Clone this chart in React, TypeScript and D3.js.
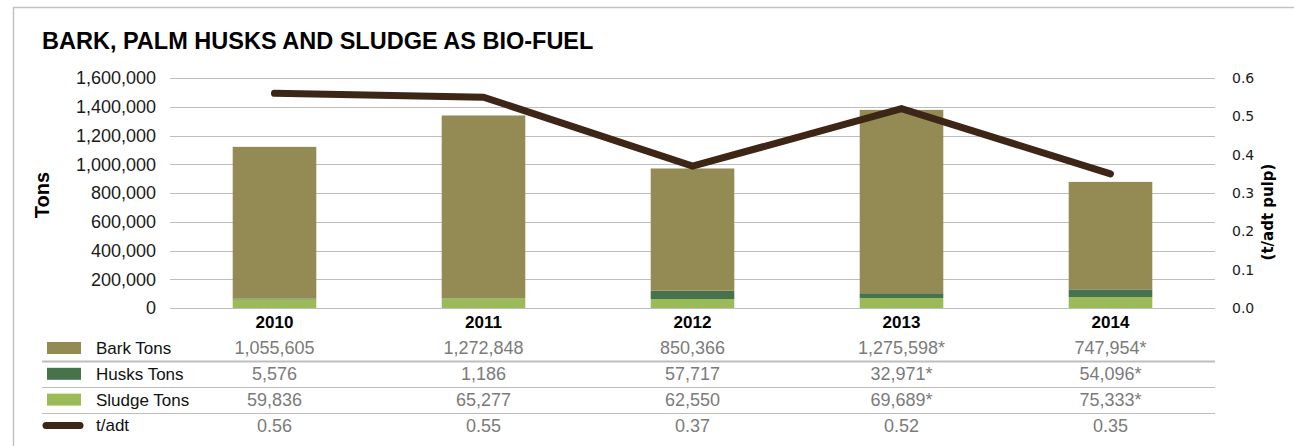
import React, { useEffect, useRef } from "react";
import * as d3 from "d3";

const years = ["2010", "2011", "2012", "2013", "2014"];
const barkTons = [1055605, 1272848, 850366, 1275598, 747954];
const husksTons = [5576, 1186, 57717, 32971, 54096];
const sludgeTons = [59836, 65277, 62550, 69689, 75333];
const tAdt = [0.56, 0.55, 0.37, 0.52, 0.35];
// years marked with an asterisk in the table
const starred = [false, false, false, true, true];

const leftTicks = [0, 200000, 400000, 600000, 800000, 1000000, 1200000, 1400000, 1600000];
const rightTicks = [0, 0.1, 0.2, 0.3, 0.4, 0.5, 0.6];

const colors = { bark: "#948a54", husks: "#46734c", sludge: "#9bbb59", line: "#3d2616" };

const W = 1294;
const H = 446;
const font = "'Liberation Sans', Arial, sans-serif";

const App = () => {
  const ref = useRef<SVGSVGElement | null>(null);

  useEffect(() => {
    const svg = d3.select(ref.current);
    svg.selectAll("*").remove();

    const x0 = 170, x1 = 1215, yTop = 78, yZero = 308;

    const x = d3.scaleBand().domain(years).range([x0, x1]).paddingInner(0.6).paddingOuter(0.3);
    const y = d3.scaleLinear().domain([0, 1600000]).range([yZero, yTop]);
    const y2 = d3.scaleLinear().domain([0, 0.6]).range([yZero, yTop]);

    // frame
    svg.append("path")
      .attr("d", `M13.5,${H} V7.5 H${W}`)
      .attr("fill", "none")
      .attr("stroke", "#c3c3c3")
      .attr("stroke-width", 1.5);

    svg.append("text")
      .attr("x", 42).attr("y", 49)
      .attr("font-family", font).attr("font-size", 23.5).attr("font-weight", "bold")
      .text("BARK, PALM HUSKS AND SLUDGE AS BIO-FUEL");

    // gridlines
    svg.append("g").selectAll("line").data(leftTicks).enter().append("line")
      .attr("x1", x0).attr("x2", x1)
      .attr("y1", (d) => Math.round(y(d)) + 0.5).attr("y2", (d) => Math.round(y(d)) + 0.5)
      .attr("stroke", "#bdbdbd").attr("stroke-width", 1.2);

    svg.append("g").selectAll("text").data(leftTicks).enter().append("text")
      .attr("x", 156).attr("y", (d) => y(d)).attr("dy", "0.35em")
      .attr("text-anchor", "end")
      .attr("font-family", font).attr("font-size", 18).attr("fill", "#1a1a1a")
      .text((d) => d3.format(",")(d));

    svg.append("g").selectAll("text").data(rightTicks).enter().append("text")
      .attr("x", 1232).attr("y", (d) => y2(d)).attr("dy", "0.35em")
      .attr("font-family", "'DejaVu Sans', sans-serif").attr("font-size", 14).attr("fill", "#1a1a1a")
      .text((d) => d.toFixed(1));

    svg.append("text")
      .attr("transform", `translate(49,195) rotate(-90)`)
      .attr("text-anchor", "middle")
      .attr("font-family", font).attr("font-size", 20).attr("font-weight", "bold")
      .text("Tons");

    svg.append("text")
      .attr("transform", `translate(1273,212) rotate(-90)`)
      .attr("text-anchor", "middle")
      .attr("font-family", "'DejaVu Sans', sans-serif").attr("font-size", 15).attr("font-weight", "bold")
      .text("(t/adt pulp)");

    // stacked bars
    const rows = years.map((yr, i) => ({ year: yr, sludge: sludgeTons[i], husks: husksTons[i], bark: barkTons[i] }));
    const stack = d3.stack<any>().keys(["sludge", "husks", "bark"])(rows);
    svg.append("g").selectAll("g").data(stack).enter().append("g")
      .attr("fill", (s) => (colors as any)[s.key])
      .selectAll("rect").data((s) => s).enter().append("rect")
      .attr("x", (d: any) => x(d.data.year)!)
      .attr("width", x.bandwidth())
      .attr("y", (d) => y(d[1]))
      .attr("height", (d) => y(d[0]) - y(d[1]));

    // line
    const line = d3.line<number>()
      .x((_, i) => x(years[i])! + x.bandwidth() / 2)
      .y((d) => y2(d));
    svg.append("path")
      .attr("d", line(tAdt))
      .attr("fill", "none")
      .attr("stroke", colors.line)
      .attr("stroke-width", 7)
      .attr("stroke-linecap", "round")
      .attr("stroke-linejoin", "miter");

    // year labels
    svg.append("g").selectAll("text").data(years).enter().append("text")
      .attr("x", (d) => x(d)! + x.bandwidth() / 2).attr("y", 328)
      .attr("text-anchor", "middle")
      .attr("font-family", font).attr("font-size", 17).attr("font-weight", "bold")
      .text((d) => d);

    // data table
    const fmt = d3.format(",");
    const star = (i: number) => (starred[i] ? "*" : "");
    const tableRows = [
      { name: "Bark Tons", key: "bark", vals: barkTons.map((v, i) => fmt(v) + star(i)) },
      { name: "Husks Tons", key: "husks", vals: husksTons.map((v, i) => fmt(v) + star(i)) },
      { name: "Sludge Tons", key: "sludge", vals: sludgeTons.map((v, i) => fmt(v) + star(i)) },
      { name: "t/adt", key: "line", vals: tAdt.map((v) => v.toFixed(2)) },
    ];
    const rowY = d3.scaleLinear().domain([0, 1]).range([348, 373.8]);

    [0, 1, 2].forEach((i) => {
      const ly = Math.round((rowY(i) + rowY(i + 1)) / 2) + 0.5;
      svg.append("line")
        .attr("x1", 42).attr("x2", x1).attr("y1", ly).attr("y2", ly)
        .attr("stroke", "#bdbdbd").attr("stroke-width", i === 0 ? 1.8 : 1.2);
    });

    const tr = svg.append("g").selectAll("g").data(tableRows).enter().append("g")
      .attr("transform", (_, i) => `translate(0,${rowY(i)})`);

    tr.filter((d) => d.key !== "line").append("rect")
      .attr("x", 47).attr("y", -6).attr("width", 34).attr("height", 12)
      .attr("fill", (d) => (colors as any)[d.key]);
    tr.filter((d) => d.key === "line").append("line")
      .attr("x1", 46).attr("x2", 80).attr("y1", 0).attr("y2", 0)
      .attr("stroke", colors.line).attr("stroke-width", 7).attr("stroke-linecap", "round");

    tr.append("text")
      .attr("x", 96).attr("dy", "0.35em")
      .attr("font-family", font).attr("font-size", 17).attr("fill", "#111")
      .text((d) => d.name);

    tr.selectAll("text.v").data((d) => d.vals).enter().append("text")
      .attr("class", "v")
      .attr("x", (_, i) => x(years[i])! + x.bandwidth() / 2)
      .attr("dy", "0.35em")
      .attr("text-anchor", "middle")
      .attr("font-family", font).attr("font-size", 18).attr("fill", "#7b7b7b")
      .text((d) => d);
  }, []);

  return <svg ref={ref} width={W} height={H} style={{ position: "absolute", left: 0, top: 0 }} />;
};

export default App;
